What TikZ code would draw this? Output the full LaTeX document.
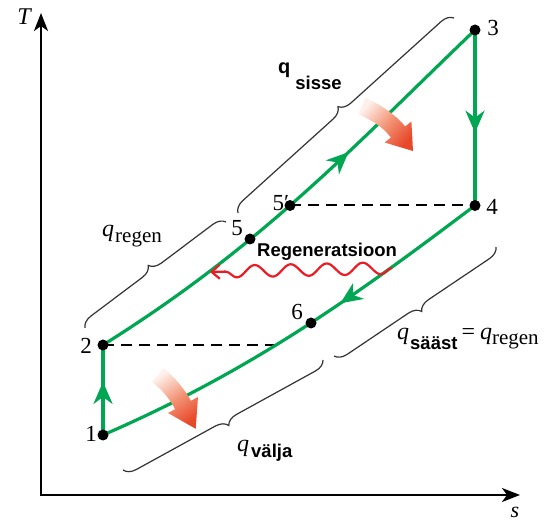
\documentclass[tikz,border=0pt]{standalone}
\usepackage{fontspec}
\setmainfont{Liberation Serif}
\setsansfont{Liberation Sans}
\usetikzlibrary{arrows.meta,decorations.pathreplacing,decorations.pathmorphing,decorations.markings}
\definecolor{cgreen}{RGB}{0,166,81}
\definecolor{cwave}{RGB}{237,28,36}
\definecolor{cdark}{RGB}{232,72,42}
\definecolor{cmid}{RGB}{243,150,120}
\definecolor{clight}{RGB}{254,240,235}
\newcommand{\fsz}[1]{\fontsize{#1}{#1}\selectfont}
\begin{document}
\begin{tikzpicture}[x=1pt,y=1pt,
 axes/.style={line width=2.2pt, {Stealth[length=18pt,width=14pt,inset=5pt]}-{Stealth[length=18pt,width=14pt,inset=5pt]}},
 cyc/.style={line width=3.2pt, draw=cgreen},
 midarrow/.style={postaction={decorate}, decoration={markings, mark=at position #1 with {\arrow[cgreen]{Stealth[length=22pt,width=19pt,inset=7pt]}}}},
 dot/.style={circle, fill=black, inner sep=0pt, minimum size=11pt},
 num/.style={font=\fsz{23}, inner sep=0pt},
 dashline/.style={line width=2pt, dash pattern=on 11pt off 7pt},
 brc/.style={decorate, decoration={brace, amplitude=12pt}, line width=1.2pt, draw=black!80},
 lbl/.style={inner sep=0pt, anchor=base west},
 wave/.style={draw=cwave, line width=2.2pt, decorate, decoration={snake, segment length=36pt, amplitude=6pt, post length=10pt}},
 ]
\useasboundingbox (0,0) rectangle (552,524);

% coordinates
\coordinate (Ttop) at (41,511);
\coordinate (Sright) at (520,29);
\coordinate (p1) at (103,89);
\coordinate (p2) at (103,179);
\coordinate (p3) at (475,494);
\coordinate (p4) at (475,318.5);
\coordinate (p5) at (250,285);
\coordinate (p5p) at (290,318.5);
\coordinate (p6) at (311,201);
\coordinate (x2) at (277,179);
\coordinate (w1) at (392,256);
\coordinate (w2) at (210,252);
\coordinate (bs1) at (238,311);
\coordinate (bs2) at (454,506);
\coordinate (br1) at (85,196);
\coordinate (br2) at (226,302);
\coordinate (bq1) at (496,277);
\coordinate (bq2) at (334,168);
\coordinate (bv1) at (323,164);
\coordinate (bv2) at (123,54);

% axes
\draw[axes] (Ttop) |- (Sright);
\node (lT) at (24,507) {\fsz{24}\itshape T};
\node[inner sep=0pt, anchor=base] (ls) at (515,6) {\fsz{22}\itshape s};

% braces
\draw[brc] (bs1) -- (bs2);
\draw[brc] (br1) -- (br2);
\draw[brc] (bq1) -- (bq2);
\draw[brc] (bv1) -- (bv2);

% dashed lines
\draw[dashline] (p2) -- (x2);
\draw[dashline] (p5p) -- (p4);

% cycle
\draw[cyc, midarrow=0.64] (p2) .. controls (263,279) and (355,379) .. (p3);
\draw[cyc, midarrow=0.585] (p3) -- (p4);
\draw[cyc, midarrow=0.38] (p4) .. controls (355,228) and (253,154) .. (p1);
\draw[cyc, midarrow=0.59] (p1) -- (p2);

% regeneration wave
\draw[wave, -{Straight Barb[length=8pt,width=14pt]}] (w1) -- (w2);

% dots
\node[dot] (d1) at (p1) {};
\node[dot] (d2) at (p2) {};
\node[dot] (d3) at (p3) {};
\node[dot] (d4) at (p4) {};
\node[dot] (d5) at (p5) {};
\node[dot] (d5p) at (p5p) {};
\node[dot] (d6) at (p6) {};

% point labels
\node[num] (l1) at (91,90) {1};
\node[num] (l2) at (86,178) {2};
\node[num] (l3) at (493,496) {3};
\node[num] (l4) at (492,317) {4};
\node[num] (l5) at (237,296) {5};
\node[num] (l5p) at (281,321) {5′};
\node[num] (l6) at (297,212) {6};

% text labels
\node[lbl] (qsisse) at (278,450) {\sffamily\bfseries\fsz{20}q\kern5pt\raisebox{-16pt}{\fsz{18.5}sisse}};
\node[lbl] (qregen) at (102,287) {\fsz{24}\itshape q\kern1pt\upshape\raisebox{-6pt}{\fsz{21}regen}};
\node[lbl] (qsaast) at (397,184) {\fsz{24}\itshape q\upshape\kern1pt\raisebox{-10pt}{\sffamily\bfseries\fsz{18.5}sääst}\kern4pt=\kern5pt\itshape q\upshape\raisebox{-5pt}{\fsz{21}regen}};
\node[lbl] (qvalja) at (237,72) {\fsz{24}\itshape q\upshape\kern2pt\raisebox{-6pt}{\sffamily\bfseries\fsz{18.5}välja}};
\node[lbl] (regtxt) at (257,267) {\sffamily\bfseries\fsz{18.5}Regeneratsioon};

% heat flow arrows
\shade[top color=clight, bottom color=cdark, middle color=cmid, shading angle=49]
 (365.8,426.2) .. controls (379.4,419.9) and (395.9,409.3) .. (405.1,397.5) -- (411.4,402.5) -- (413,373) -- (384.6,381.5) -- (390.9,386.5) .. controls (381.7,398.3) and (371.8,403.5) .. (358.2,409.8) -- cycle;
\shade[top color=clight, bottom color=cdark, middle color=cmid, shading angle=35]
 (163.8,155.9) .. controls (173.8,147.5) and (184.8,134.7) .. (190.9,123.2) -- (198,127) -- (195.7,95.2) -- (168,111) -- (175.1,114.8) .. controls (169,126.3) and (162.2,133.7) .. (152.2,142.1) -- cycle;
\end{tikzpicture}
\end{document}
